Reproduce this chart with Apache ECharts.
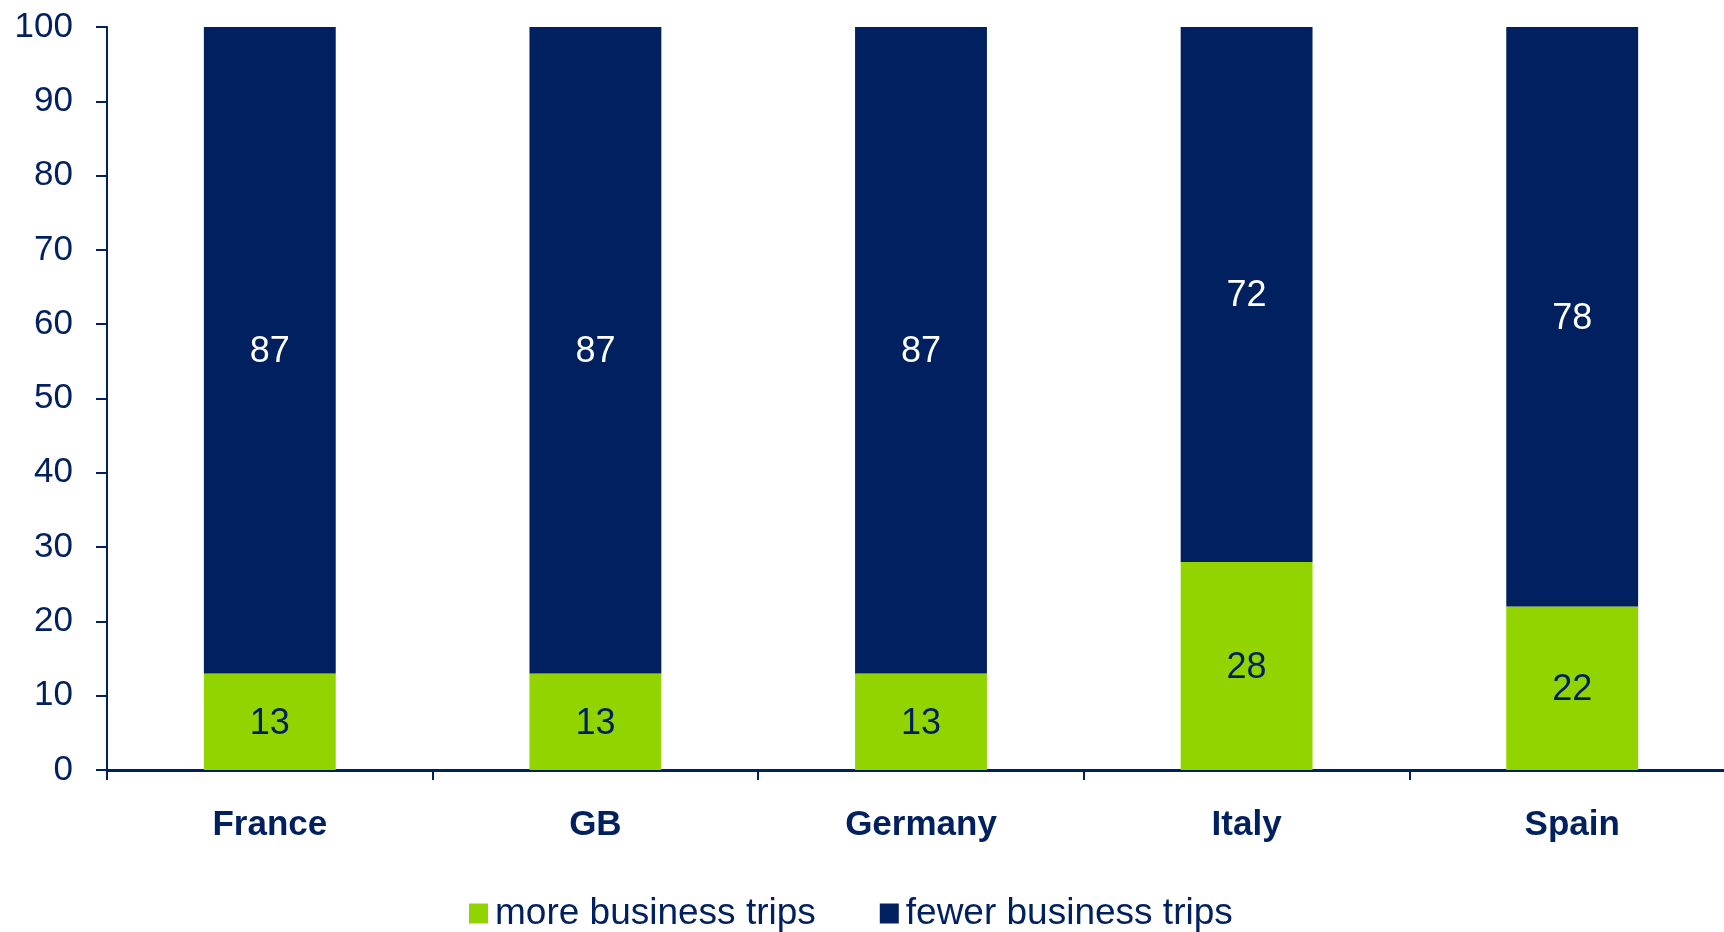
<!DOCTYPE html>
<html>
<head>
<meta charset="utf-8">
<script src="https://cdn.jsdelivr.net/npm/echarts@6/dist/echarts.min.js"></script>
<style>
html,body{margin:0;padding:0;background:#fff;overflow:hidden;width:1724px;height:932px;}
#chart{width:1735px;height:932px;}
</style>
</head>
<body>
<div id="chart"></div>
<script>
var categories = ['France', 'GB', 'Germany', 'Italy', 'Spain'];
var moreTrips = [13, 13, 13, 28, 22];
var fewerTrips = [87, 87, 87, 72, 78];
var seriesNames = ['more business trips', 'fewer business trips'];

var NAVY = '#00205f';
var GREEN = '#92d400';
var FONT = '"Liberation Sans", Arial, sans-serif';

var chart = echarts.init(document.getElementById('chart'), null, {renderer: 'canvas'});
chart.setOption({
  animation: false,
  backgroundColor: '#ffffff',
  grid: {left: 107, right: 0, top: 27, bottom: 162, containLabel: false},
  legend: {
    left: 464,
    top: 890,
    itemWidth: 19,
    itemHeight: 20,
    itemGap: 64,
    icon: 'rect',
    textStyle: {color: NAVY, fontSize: 37, fontFamily: FONT, padding: [0, 0, 0, 2]},
    data: seriesNames
  },
  xAxis: {
    type: 'category',
    data: categories,
    axisLine: {lineStyle: {color: NAVY, width: 3}},
    axisTick: {show: true, length: 10, lineStyle: {color: NAVY, width: 2}},
    axisLabel: {color: NAVY, fontSize: 35, fontWeight: 'bold', fontFamily: FONT, margin: 38}
  },
  yAxis: {
    type: 'value',
    min: 0,
    max: 100,
    interval: 10,
    axisLine: {show: true, lineStyle: {color: NAVY, width: 2}},
    axisTick: {show: true, length: 11, lineStyle: {color: NAVY, width: 2}},
    axisLabel: {color: NAVY, fontSize: 35, fontFamily: FONT, margin: 34},
    splitLine: {show: false}
  },
  series: [
    {
      name: seriesNames[0],
      type: 'bar',
      stack: 'total',
      barWidth: '40.5%',
      data: moreTrips,
      itemStyle: {color: GREEN},
      label: {show: true, position: 'inside', offset: [0, 2], color: NAVY, fontSize: 36, fontFamily: FONT}
    },
    {
      name: seriesNames[1],
      type: 'bar',
      stack: 'total',
      barWidth: '40.5%',
      data: fewerTrips,
      itemStyle: {color: NAVY},
      label: {show: true, position: 'inside', offset: [0, 2], color: '#ffffff', fontSize: 36, fontFamily: FONT}
    }
  ]
});
</script>
</body>
</html>
